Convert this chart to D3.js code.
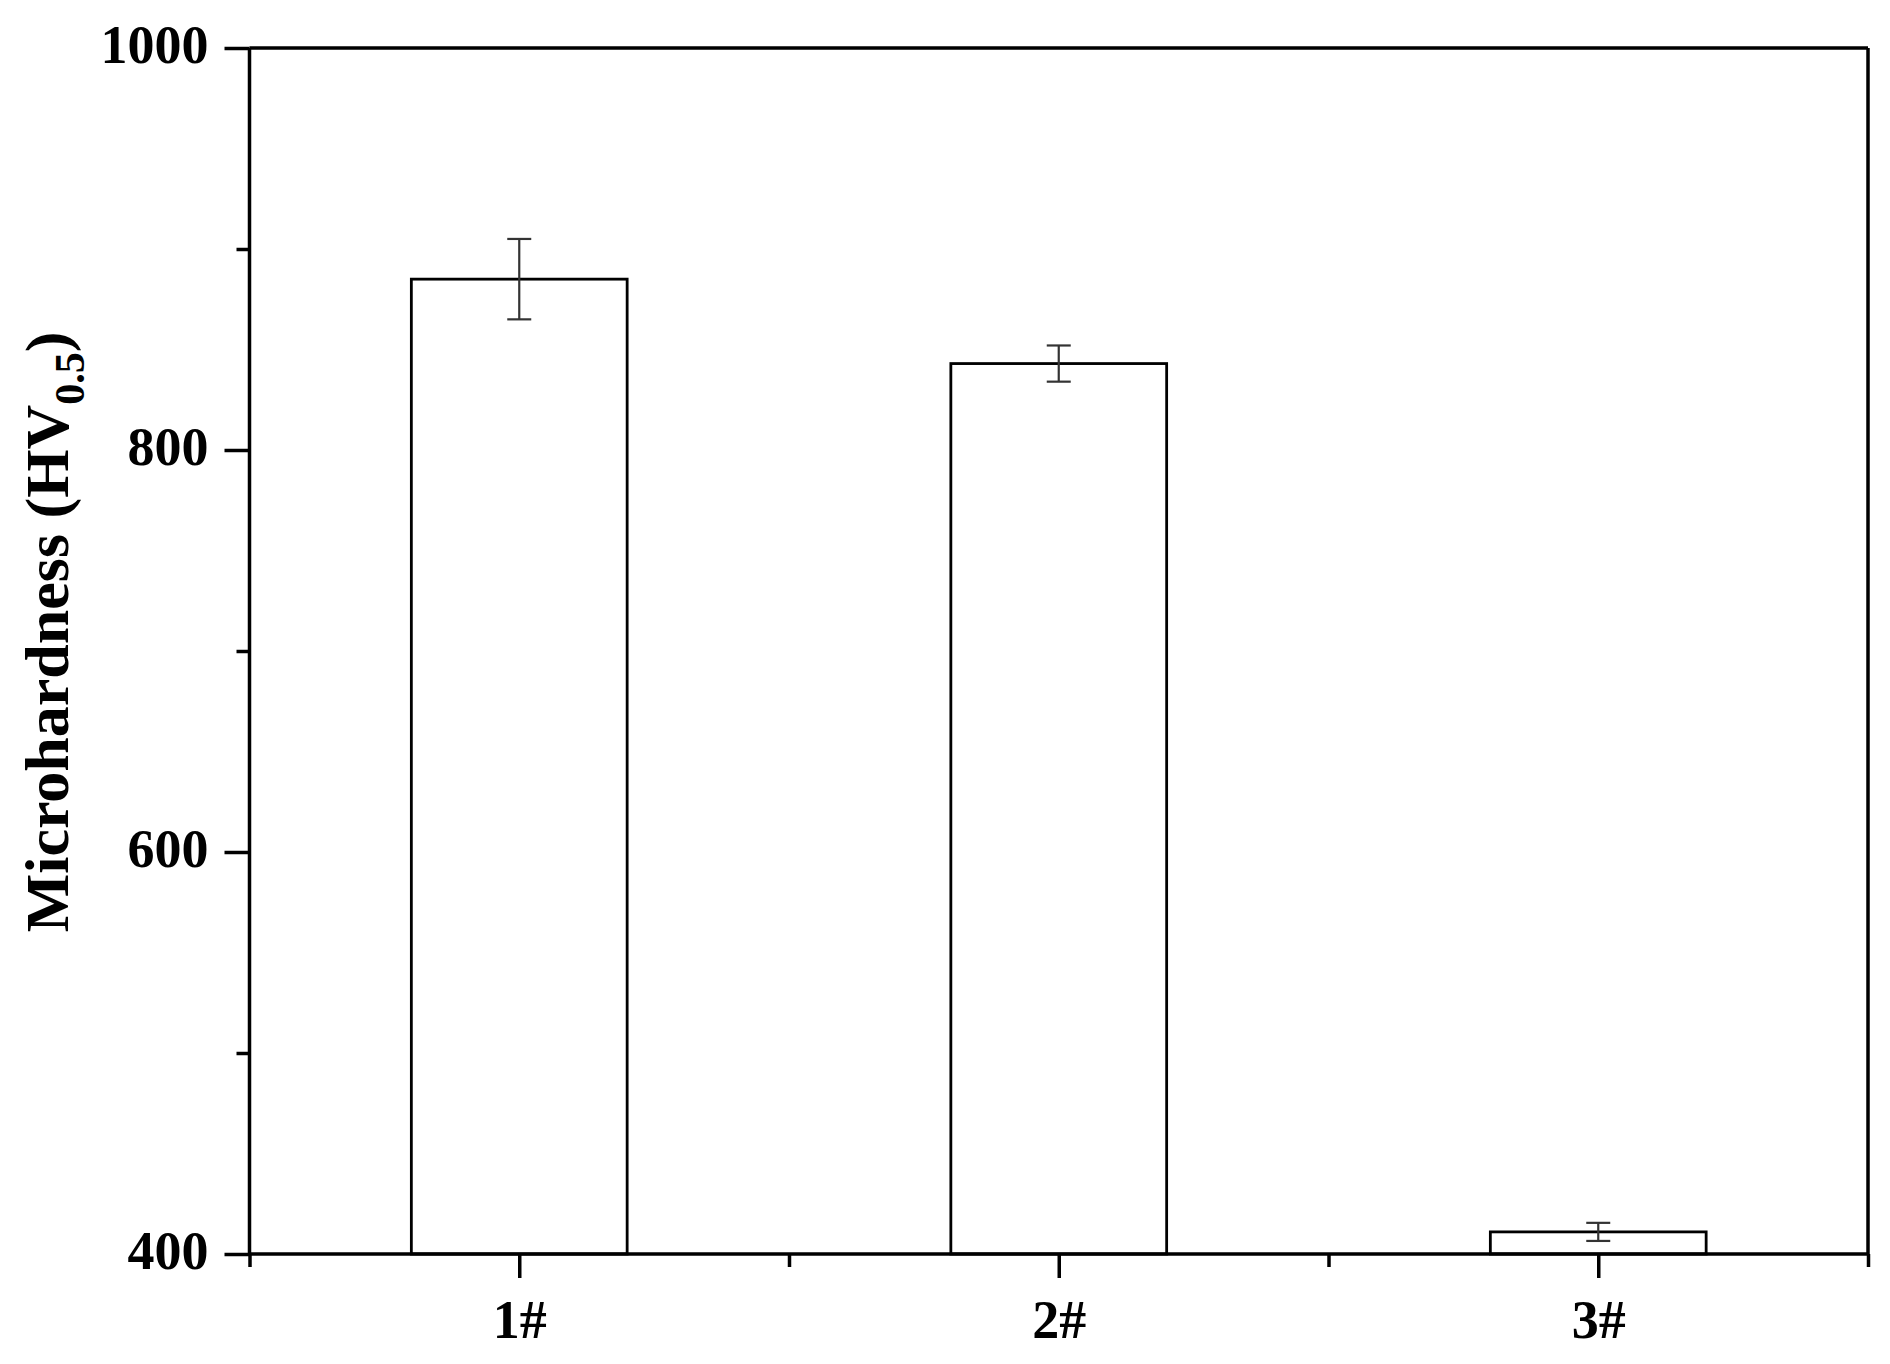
<!DOCTYPE html>
<html>
<head>
<meta charset="utf-8">
<script src="https://cdn.jsdelivr.net/npm/d3@7/dist/d3.min.js"></script>
<style>
html,body{margin:0;padding:0;background:#fff;}
svg{display:block;}
text{font-family:"Liberation Serif","Times New Roman",serif;font-weight:bold;fill:#000;}
</style>
</head>
<body>
<svg id="chart" width="1890" height="1364"></svg>
<script>
const categories = ["1#", "2#", "3#"];
const hardness = [885, 843, 411];
const errors = [20, 9, 4.5];
const yMajorTicks = [400, 600, 800, 1000];
const yMinorTicks = [500, 700, 900];

const W = 1890, H = 1364;
const m = {left: 249.5, right: 1868, top: 48, bottom: 1254};
const svg = d3.select("#chart");

const x = d3.scaleLinear().domain([0.5, 3.5]).range([m.left, m.right]);
const y = d3.scaleLinear().domain([400, 1000]).range([m.bottom, m.top]);
const barW = 0.4;

// bars
svg.append("g").selectAll("rect").data(hardness).join("rect")
  .attr("x", (d, i) => x(i + 1 - barW / 2))
  .attr("width", (d, i) => x(i + 1 + barW / 2) - x(i + 1 - barW / 2))
  .attr("y", d => y(d))
  .attr("height", d => y(400) - y(d))
  .attr("fill", "#fff").attr("stroke", "#000").attr("stroke-width", 2.8);

// error bars
const eg = svg.append("g").attr("stroke", "#333").attr("stroke-width", 2.2);
hardness.forEach((d, i) => {
  const cx = x(i + 1);
  eg.append("line").attr("x1", cx).attr("x2", cx).attr("y1", y(d + errors[i])).attr("y2", y(d - errors[i]));
  eg.append("line").attr("x1", cx - 12).attr("x2", cx + 12).attr("y1", y(d + errors[i])).attr("y2", y(d + errors[i]));
  eg.append("line").attr("x1", cx - 12).attr("x2", cx + 12).attr("y1", y(d - errors[i])).attr("y2", y(d - errors[i]));
});

// frame top/right
svg.append("line").attr("x1", m.left).attr("x2", m.right).attr("y1", m.top).attr("y2", m.top).attr("stroke", "#000").attr("stroke-width", 3.5);
svg.append("line").attr("x1", m.right).attr("x2", m.right).attr("y1", m.top).attr("y2", m.bottom).attr("stroke", "#000").attr("stroke-width", 3.5);

// y axis
const yAx = svg.append("g").attr("transform", `translate(${m.left},0)`)
  .call(d3.axisLeft(y).tickValues(yMajorTicks).tickSize(25).tickPadding(16).tickFormat(d3.format("d")));
svg.append("g").attr("transform", `translate(${m.left},0)`)
  .call(d3.axisLeft(y).tickValues(yMinorTicks).tickSize(13).tickFormat(""))
  .select(".domain").remove();

// x axis
const xAx = svg.append("g").attr("transform", `translate(0,${m.bottom})`)
  .call(d3.axisBottom(x).tickValues([1, 2, 3]).tickSize(24).tickPadding(22).tickFormat(d => categories[d - 1]));
svg.append("g").attr("transform", `translate(0,${m.bottom})`)
  .call(d3.axisBottom(x).tickValues([0.5, 1.5, 2.5, 3.5]).tickSize(13).tickFormat(""))
  .select(".domain").remove();

svg.selectAll(".domain").attr("stroke", "#000").attr("stroke-width", 3.5);
svg.selectAll(".tick line").attr("stroke", "#000").attr("stroke-width", 3.5);
svg.selectAll(".tick text").attr("font-family", "Liberation Serif, Times New Roman, serif")
  .attr("font-weight", "bold").attr("font-size", 54).attr("fill", "#000");
yAx.selectAll(".tick text").attr("dy", "0.26em");
xAx.selectAll(".domain").attr("d", `M${m.left},0H${m.right}`);
yAx.selectAll(".domain").attr("d", `M0,${m.bottom}V${m.top}`);

// y title
const t = svg.append("text")
  .attr("transform", `translate(68,${(m.top + m.bottom) / 2 - 19}) rotate(-90)`)
  .attr("text-anchor", "middle").attr("font-size", 62);
t.append("tspan").text("Microhardness (HV");
t.append("tspan").attr("font-size", 42).attr("dy", 16).text("0.5");
t.append("tspan").attr("dy", -16).text(")");
</script>
</body>
</html>
